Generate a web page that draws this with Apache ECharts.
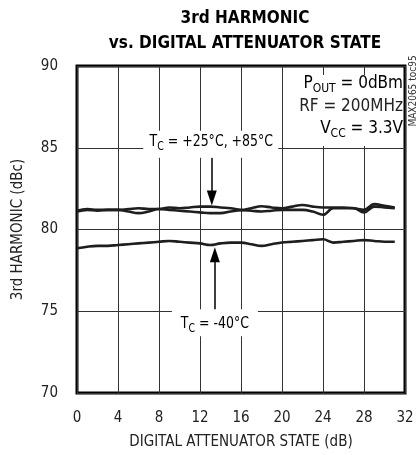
<!DOCTYPE html>
<html>
<head>
<meta charset="utf-8">
<script src="https://cdn.jsdelivr.net/npm/echarts@6/dist/echarts.min.js"></script>
<style>
  html, body { margin: 0; padding: 0; background: #fff; }
  #chart { width: 420px; height: 455px; }
</style>
</head>
<body>
<div id="chart"></div>
<script>
// digital attenuator state (dB)
var attenState = [0, 1, 2, 3, 4, 5, 6, 7, 8, 9, 10, 11, 12, 13, 14, 15,
  16, 17, 18, 19, 20, 21, 22, 23, 24, 25, 26, 27, 28, 29, 30, 31];
// 3rd harmonic (dBc)
var harmTc25 = [81.15, 81.25, 81.2, 81.2, 81.2, 81.25, 81.3, 81.25, 81.25, 81.35, 81.3, 81.35, 81.4, 81.4, 81.35, 81.3,
  81.2, 81.3, 81.42, 81.35, 81.3, 81.4, 81.5, 81.4, 81.35, 81.35, 81.35, 81.3, 81.2, 81.55, 81.45, 81.35];
var harmTc85 = [81.1, 81.2, 81.15, 81.2, 81.2, 81.1, 81.0, 81.1, 81.25, 81.2, 81.15, 81.1, 81.05, 81.0, 81.0, 81.1,
  81.18, 81.15, 81.1, 81.15, 81.2, 81.2, 81.2, 81.1, 80.9, 81.3, 81.3, 81.3, 81.05, 81.4, 81.35, 81.3];
var harmTcM40 = [78.85, 78.95, 79.0, 79.0, 79.05, 79.1, 79.15, 79.2, 79.25, 79.3, 79.25, 79.2, 79.15, 79.05, 79.15, 79.2,
  79.2, 79.1, 79.0, 79.1, 79.2, 79.25, 79.3, 79.35, 79.4, 79.2, 79.25, 79.3, 79.35, 79.3, 79.25, 79.25];
var xTickLabels = [0, 4, 8, 12, 16, 20, 24, 28, 32];
var yTickLabels = [70, 75, 80, 85, 90];

var FONT = "'Liberation Sans Narrow', 'DejaVu Sans Condensed', sans-serif";

function toXY(arr) {
  return attenState.map(function (x, i) { return [x, arr[i]]; });
}

function curve(name, arr, extra) {
  var s = {
    name: name,
    type: 'line',
    data: toXY(arr),
    smooth: 0.4,
    symbol: 'none',
    lineStyle: { color: '#1e1e1e', width: 2.6 },
    z: 3
  };
  if (extra) s.markLine = extra;
  return s;
}

// arrow end is the centre of the head, so it sits a bit short of the tip
function arrow(x, from, to) {
  return {
    silent: true,
    symbol: ['none', 'triangle'],
    symbolSize: [10, 15],
    lineStyle: { color: '#000', width: 1.5, type: 'solid' },
    label: { show: false },
    data: [[{ coord: [x, from] }, { coord: [x, to] }]]
  };
}

var myChart = echarts.init(document.getElementById('chart'));
var option = {
  animation: false,
  backgroundColor: '#fff',
  title: {
    text: '3rd HARMONIC\nvs. DIGITAL ATTENUATOR STATE',
    left: 240,
    top: 1,
    textAlign: 'center',
    textStyle: {
      fontFamily: FONT,
      fontWeight: 'bold',
      fontSize: 17,
      lineHeight: 25,
      color: '#000'
    }
  },
  grid: {
    left: 77, right: 15, top: 66, bottom: 61,
    show: true, borderColor: '#000', borderWidth: 3,
    containLabel: false
  },
  xAxis: {
    type: 'value',
    min: xTickLabels[0],
    max: xTickLabels[xTickLabels.length - 1],
    interval: xTickLabels[1] - xTickLabels[0],
    name: 'DIGITAL ATTENUATOR STATE (dB)',
    nameLocation: 'middle',
    nameGap: 42,
    nameTextStyle: { fontFamily: FONT, fontSize: 15, color: '#222' },
    axisLine: { show: false },
    axisTick: { show: false },
    axisLabel: { fontFamily: FONT, fontSize: 15, color: '#222', margin: 18 },
    splitLine: { show: true, lineStyle: { color: '#333', width: 1 } }
  },
  yAxis: {
    type: 'value',
    min: yTickLabels[0],
    max: yTickLabels[yTickLabels.length - 1],
    interval: yTickLabels[1] - yTickLabels[0],
    name: '3rd HARMONIC (dBc)',
    nameLocation: 'middle',
    nameGap: 51,
    nameTextStyle: { fontFamily: FONT, fontSize: 15, color: '#222' },
    axisLine: { show: false },
    axisTick: { show: false },
    axisLabel: { fontFamily: FONT, fontSize: 15, color: '#222', margin: 19 },
    splitLine: { show: true, lineStyle: { color: '#333', width: 1 } }
  },
  series: [
    curve('TC = +25°C', harmTc25, arrow(13.15, 84.4, 81.92)),
    curve('TC = +85°C', harmTc85),
    curve('TC = -40°C', harmTcM40, arrow(13.45, 75, 78.45))
  ]
};
myChart.setOption(option, true);

// annotation boxes and labels, anchored to data positions
var rich = {
  m: { fontFamily: FONT, fontSize: 16, color: '#222', lineHeight: 16, verticalAlign: 'top' },
  s: { fontFamily: FONT, fontSize: 12, color: '#222', lineHeight: 26, verticalAlign: 'middle' }
};
var richBig = {
  m: { fontFamily: FONT, fontSize: 17, color: '#222', lineHeight: 17, verticalAlign: 'top' },
  s: { fontFamily: FONT, fontSize: 12, color: '#222', lineHeight: 27, verticalAlign: 'middle' }
};
var narrow = 0.87;
var pUp = myChart.convertToPixel({ gridIndex: 0 }, [13.1, 85]);
var pLow = myChart.convertToPixel({ gridIndex: 0 }, [13.45, 75]);
var pCorner = myChart.convertToPixel({ gridIndex: 0 }, [32, 90]);

myChart.setOption({
  graphic: [
    { type: 'rect', z: 10, shape: { x: pUp[0] - 68, y: pUp[1] - 17, width: 135, height: 27 }, style: { fill: '#fff' } },
    { type: 'text', z: 11, x: pUp[0], y: pUp[1] - 14, scaleX: narrow,
      style: { text: '{m|T}{s|C}{m| = +25°C, +85°C}', rich: rich, align: 'center', verticalAlign: 'top' } },
    { type: 'rect', z: 10, shape: { x: pLow[0] - 43, y: pLow[1] - 2, width: 86, height: 27 }, style: { fill: '#fff' } },
    { type: 'text', z: 11, x: pLow[0], y: pLow[1] + 5, scaleX: narrow,
      style: { text: '{m|T}{s|C}{m| = -40°C}', rich: rich, align: 'center', verticalAlign: 'top' } },
    { type: 'rect', z: 10, shape: { x: pCorner[0] - 116, y: pCorner[1] + 9, width: 113, height: 71 }, style: { fill: '#fff' } },
    { type: 'text', z: 11, x: pCorner[0] - 2, y: pCorner[1] + 9.5,
      style: { text: '{m|P}{s|OUT}{m| = 0dBm}', rich: richBig, align: 'right', verticalAlign: 'top' } },
    { type: 'text', z: 11, x: pCorner[0] - 2, y: pCorner[1] + 40.5,
      style: { text: 'RF = 200MHz', fontFamily: FONT, fontSize: 17, fill: '#222', align: 'right', verticalAlign: 'middle' } },
    { type: 'text', z: 11, x: pCorner[0] - 2, y: pCorner[1] + 54.5,
      style: { text: '{m|V}{s|CC}{m| = 3.3V}', rich: richBig, align: 'right', verticalAlign: 'top' } },
    { type: 'text', z: 11, x: 413, y: 91, rotation: Math.PI / 2,
      style: { text: 'MAX2065 toc95', fontFamily: FONT, fontSize: 10, fill: '#333', align: 'center', verticalAlign: 'middle' } }
  ]
});
</script>
</body>
</html>
